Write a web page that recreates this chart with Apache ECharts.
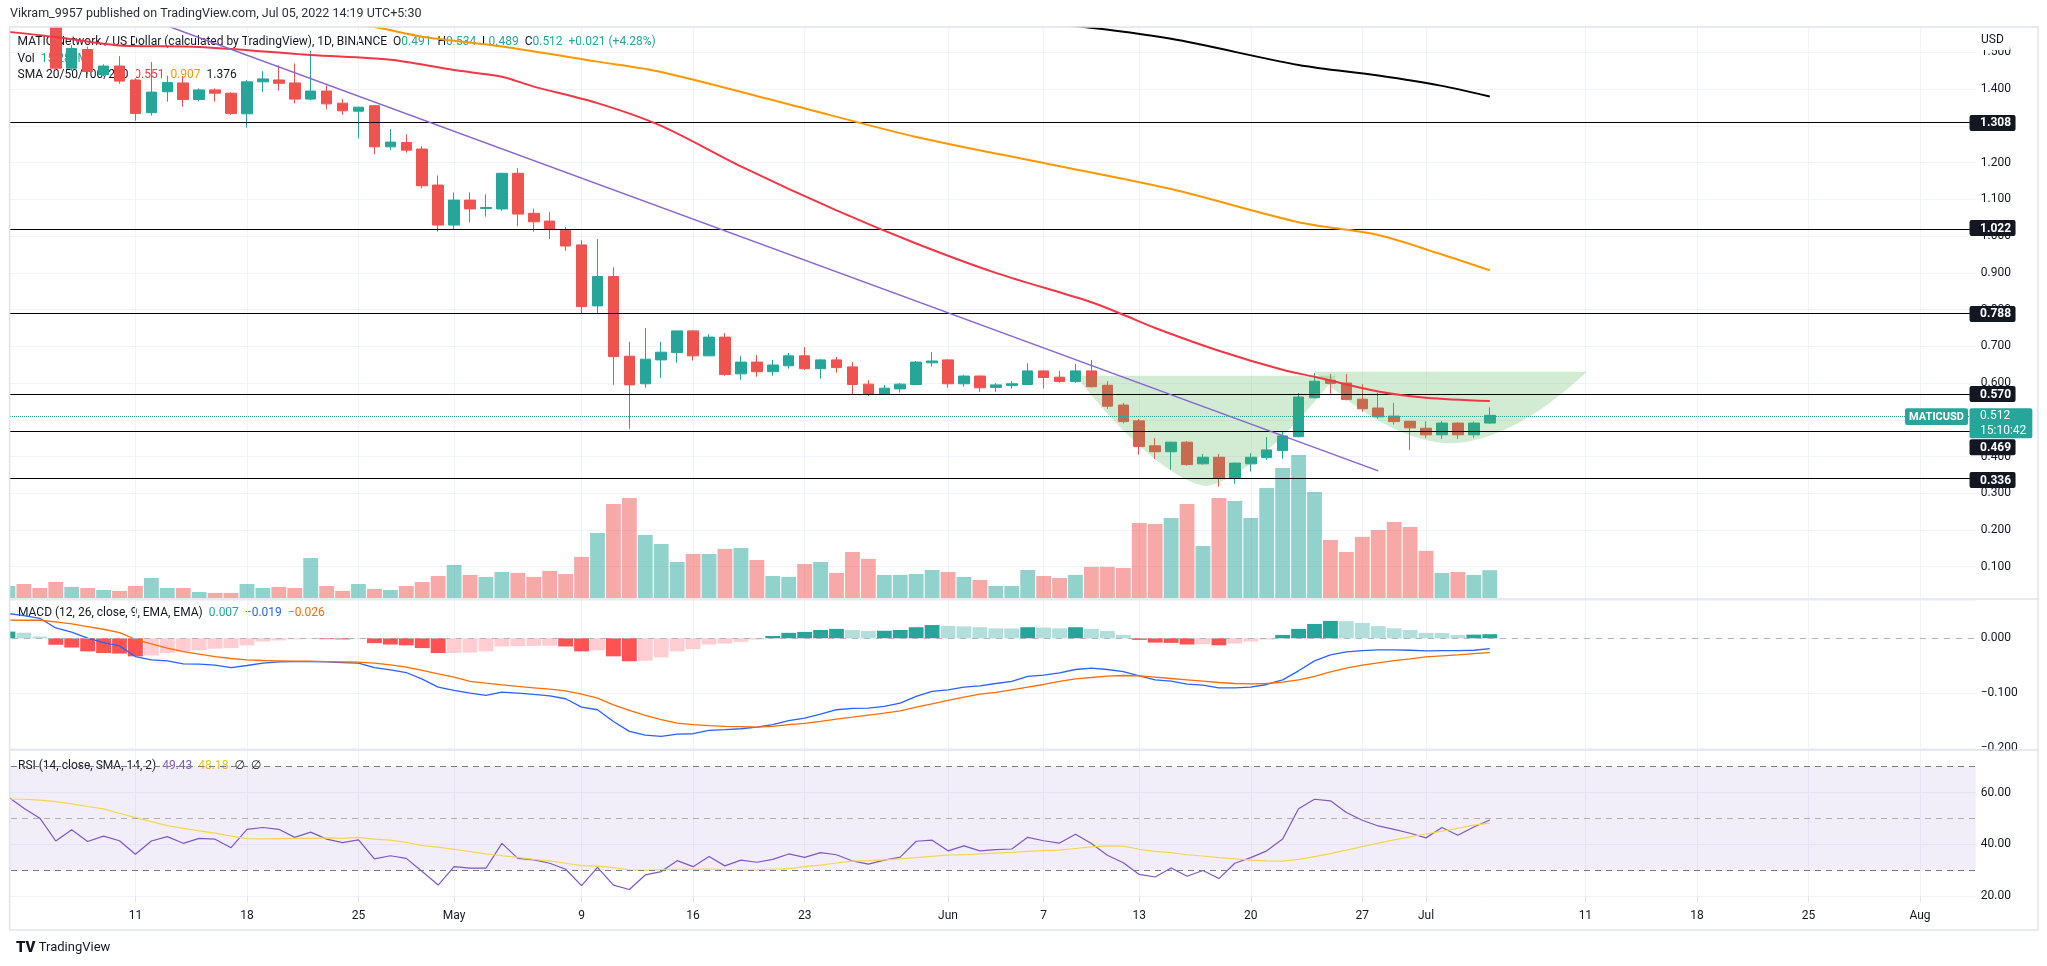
<!DOCTYPE html>
<html>
<head>
<meta charset="utf-8">
<title>MATICUSD 1D</title>
<script src="https://cdn.jsdelivr.net/npm/echarts@6.0.0/dist/echarts.min.js"></script>
<style>
html,body{margin:0;padding:0;background:#ffffff;}
#chart{width:2047px;height:966px;}
</style>
</head>
<body>
<div id="chart"></div>
<script>
// ================= DATA =================
const startDay = '2022-04-03';
const dayCount = 124;               // Apr 3 .. Aug 4 (empty space after Jul 5)

// [open, close, low, high], Apr 3 .. Jul 5
const ohlc = [
[1.650,1.700,1.620,1.720],[1.700,1.670,1.600,1.740],[1.670,1.620,1.600,1.720],[1.620,1.457,1.450,1.630],
[1.457,1.511,1.450,1.520],[1.508,1.448,1.440,1.516],[1.440,1.463,1.435,1.468],[1.463,1.422,1.415,1.490],
[1.425,1.334,1.314,1.430],[1.336,1.392,1.328,1.474],[1.393,1.418,1.366,1.437],[1.417,1.372,1.352,1.436],
[1.372,1.398,1.367,1.402],[1.398,1.389,1.366,1.402],[1.389,1.334,1.330,1.392],[1.333,1.420,1.295,1.425],
[1.420,1.428,1.393,1.449],[1.425,1.416,1.396,1.465],[1.417,1.373,1.361,1.470],[1.373,1.395,1.370,1.504],
[1.395,1.360,1.345,1.410],[1.362,1.341,1.330,1.373],[1.340,1.351,1.266,1.352],[1.355,1.243,1.223,1.357],
[1.243,1.256,1.234,1.291],[1.255,1.234,1.227,1.277],[1.237,1.137,1.130,1.245],[1.139,1.030,1.012,1.165],
[1.030,1.098,1.018,1.119],[1.098,1.074,1.037,1.119],[1.075,1.078,1.053,1.114],[1.074,1.171,1.069,1.172],
[1.171,1.060,1.027,1.185],[1.062,1.039,1.012,1.075],[1.041,1.018,0.992,1.065],[1.016,0.973,0.960,1.025],
[0.976,0.808,0.788,0.989],[0.810,0.890,0.790,0.992],[0.890,0.672,0.595,0.915],[0.673,0.595,0.475,0.712],
[0.598,0.665,0.587,0.750],[0.663,0.684,0.614,0.712],[0.683,0.742,0.655,0.742],[0.742,0.674,0.661,0.744],
[0.674,0.725,0.674,0.733],[0.725,0.623,0.620,0.736],[0.625,0.657,0.609,0.673],[0.657,0.631,0.617,0.676],
[0.631,0.649,0.620,0.663],[0.647,0.674,0.639,0.682],[0.674,0.639,0.636,0.698],[0.639,0.663,0.612,0.665],
[0.663,0.642,0.628,0.671],[0.644,0.596,0.569,0.657],[0.597,0.569,0.565,0.608],[0.570,0.586,0.568,0.595],
[0.584,0.597,0.574,0.600],[0.596,0.657,0.596,0.660],[0.655,0.660,0.645,0.684],[0.663,0.598,0.587,0.665],
[0.598,0.619,0.590,0.622],[0.619,0.587,0.576,0.620],[0.588,0.595,0.576,0.600],[0.593,0.598,0.585,0.605],
[0.596,0.633,0.596,0.654],[0.633,0.615,0.585,0.635],[0.616,0.604,0.601,0.633],[0.604,0.633,0.601,0.652],
[0.633,0.590,0.588,0.663],[0.594,0.537,0.530,0.605],[0.540,0.495,0.490,0.546],[0.497,0.427,0.405,0.502],
[0.429,0.413,0.393,0.450],[0.413,0.439,0.364,0.440],[0.439,0.378,0.375,0.442],[0.380,0.398,0.378,0.407],
[0.398,0.342,0.318,0.407],[0.342,0.382,0.326,0.383],[0.380,0.398,0.359,0.409],[0.397,0.418,0.391,0.453],
[0.416,0.456,0.394,0.467],[0.454,0.562,0.452,0.573],[0.560,0.605,0.558,0.627],[0.608,0.599,0.571,0.625],
[0.600,0.555,0.553,0.625],[0.556,0.530,0.522,0.597],[0.532,0.508,0.503,0.573],[0.510,0.495,0.487,0.546],
[0.496,0.478,0.418,0.497],[0.477,0.459,0.451,0.496],[0.459,0.491,0.448,0.497],[0.491,0.459,0.448,0.493],
[0.459,0.491,0.451,0.495],[0.491,0.512,0.489,0.534]
];

// volume, millions
const volume = [
6.6,7.7,5.5,8.8,6.1,5.5,4.4,3.9,6.6,11.0,
5.5,5.5,3.3,2.8,2.8,7.7,5.5,6.1,5.5,22.0,
6.6,3.9,7.7,5.0,4.4,6.6,8.8,12.1,18.2,12.7,
11.6,14.3,13.8,11.6,14.9,13.2,22.6,35.8,51.7,55.0,
34.7,29.7,19.8,24.2,24.2,27.0,27.5,20.9,12.1,11.6,
18.7,19.8,13.8,25.3,21.5,12.7,12.7,13.2,15.4,14.3,
11.6,9.9,6.6,6.6,15.4,12.1,11.0,12.7,17.1,17.1,
16.5,41.3,40.7,44.0,51.7,28.6,55.0,53.4,44.0,60.5,
71.5,78.7,58.3,31.9,25.3,33.6,37.4,41.8,39.1,25.9,
13.8,14.3,12.7,15.3
];

const macdHist = [
0.012,0.010,0.003,-0.012,-0.017,-0.024,-0.027,-0.028,-0.033,-0.0315,
-0.027,-0.024,-0.022,-0.019,-0.018,-0.013,-0.006,-0.004,-0.002,-0.001,
-0.0018,-0.0022,-0.001,-0.009,-0.0115,-0.013,-0.018,-0.027,-0.0268,-0.0262,
-0.024,-0.015,-0.0145,-0.014,-0.0138,-0.015,-0.024,-0.022,-0.033,-0.042,
-0.041,-0.035,-0.024,-0.020,-0.0115,-0.0097,-0.0065,-0.0025,0.004,0.0098,
0.0115,0.015,0.017,0.015,0.0133,0.0136,0.015,0.020,0.024,0.0225,
0.0215,0.020,0.018,0.0178,0.020,0.0195,0.018,0.020,0.017,0.0133,
0.006,-0.003,-0.008,-0.0085,-0.0115,-0.011,-0.013,-0.0097,-0.006,-0.0024,
0.006,0.017,0.026,0.0315,0.031,0.028,0.022,0.018,0.015,0.0097,
0.0095,0.006,0.0065,0.0073
];

const macdLine = [
0.045,0.0412,0.0363,0.0187,0.0109,0.0000,-0.0079,-0.0140,-0.0334,-0.0394,
-0.0413,-0.0467,-0.0473,-0.0491,-0.0534,-0.0497,-0.0455,-0.0431,-0.0425,-0.0425,
-0.0431,-0.0443,-0.0455,-0.0534,-0.0576,-0.0625,-0.0746,-0.0891,-0.0952,-0.1000,
-0.1043,-0.0982,-0.1000,-0.1025,-0.1049,-0.1103,-0.1255,-0.1303,-0.1516,-0.1697,
-0.1764,-0.1788,-0.1746,-0.1740,-0.1679,-0.1667,-0.1649,-0.1619,-0.1576,-0.1503,
-0.1455,-0.1383,-0.1303,-0.1279,-0.1273,-0.1243,-0.1182,-0.1061,-0.0970,-0.0940,
-0.0892,-0.0867,-0.0825,-0.0788,-0.0697,-0.0673,-0.0631,-0.0570,-0.0546,-0.0570,
-0.0607,-0.0685,-0.0758,-0.0782,-0.0837,-0.0855,-0.0903,-0.0903,-0.0891,-0.0843,
-0.0758,-0.0594,-0.0413,-0.0304,-0.0249,-0.0225,-0.0213,-0.0213,-0.0219,-0.0231,
-0.0225,-0.0225,-0.0219,-0.0188
];

const signalLine = [
0.033,0.0327,0.0327,0.0296,0.0260,0.0212,0.0163,0.0103,-0.0019,-0.0103,
-0.0182,-0.0243,-0.0291,-0.0334,-0.0370,-0.0394,-0.0406,-0.0413,-0.0419,-0.0419,
-0.0425,-0.0431,-0.0437,-0.0455,-0.0485,-0.0528,-0.0588,-0.0649,-0.0710,-0.0788,
-0.0819,-0.0849,-0.0879,-0.0903,-0.0928,-0.0958,-0.1019,-0.1091,-0.1213,-0.1316,
-0.1407,-0.1485,-0.1546,-0.1576,-0.1594,-0.1606,-0.1612,-0.1619,-0.1606,-0.1576,
-0.1552,-0.1516,-0.1473,-0.1437,-0.1400,-0.1364,-0.1322,-0.1255,-0.1195,-0.1134,
-0.1073,-0.1019,-0.0988,-0.0940,-0.0891,-0.0843,-0.0788,-0.0740,-0.0716,-0.0691,
-0.0679,-0.0685,-0.0710,-0.0734,-0.0758,-0.0782,-0.0807,-0.0825,-0.0831,-0.0825,
-0.0801,-0.0758,-0.0697,-0.0613,-0.0546,-0.0491,-0.0449,-0.0407,-0.0376,-0.0340,
-0.0322,-0.0304,-0.0279,-0.0261
];

const rsi = [
58.4,53.9,50.1,41.3,45.6,41.1,43.2,41.4,36.2,41.3,
43.0,40.4,42.3,42.0,38.7,45.8,46.5,45.8,42.7,44.7,
42.0,40.7,41.7,34.4,35.6,34.6,29.5,24.3,31.4,30.8,
30.8,40.4,34.6,34.0,32.7,30.4,24.1,31.1,24.3,22.6,
28.2,29.5,33.7,31.4,35.3,31.7,33.9,33.1,34.2,36.3,
35.0,36.8,36.0,33.6,32.4,33.9,35.1,41.2,41.6,37.5,
39.4,37.5,38.0,38.2,42.7,41.4,40.5,43.9,40.3,35.8,
32.9,28.4,27.4,30.9,27.7,29.9,26.8,32.7,34.9,37.5,
42.1,53.7,57.4,56.8,52.3,49.3,47.1,45.8,44.3,42.5,
46.5,43.5,46.7,49.4
];

const rsiMa = [
57.4,57.4,57.1,56.5,55.6,54.6,53.7,52.0,50.3,48.8,
47.2,46.2,45.2,44.3,43.2,42.2,42.1,42.2,42.3,42.3,
42.5,42.3,42.7,42.0,41.6,40.8,39.5,38.9,38.1,37.2,
36.3,35.6,35.0,34.2,33.6,32.7,31.8,31.6,31.0,30.1,
30.0,30.2,30.4,30.4,30.5,30.2,30.1,30.1,30.4,30.6,
31.4,32.0,32.8,33.5,33.7,34.0,34.4,34.9,35.4,35.9,
36.0,36.3,36.6,36.9,37.3,37.6,37.8,38.4,39.0,39.4,
39.3,38.1,37.3,36.8,36.0,35.5,34.9,34.4,33.9,33.6,
33.5,34.2,35.3,36.4,37.8,39.1,40.5,41.7,42.9,44.0,
45.1,46.2,47.4,48.2
];

// moving averages read at a few days: [dayIndex, value]
const sma50Pts  = [[0,1.556],[3,1.542],[7,1.519],[12,1.515],[19,1.493],[24,1.480],[28,1.452],[31,1.434],[33,1.407],[37,1.362],
                   [41,1.300],[46,1.190],[52,1.070],[57,0.980],[62,0.900],[68,0.820],[70,0.786],[72,0.750],[76,0.688],[80,0.636],
                   [82,0.617],[86,0.577],[89,0.560],[93,0.551]];
const sma100Pts = [[15,1.620],[23,1.569],[26,1.543],[31,1.516],[37,1.475],[41,1.447],[49,1.359],[57,1.270],[65,1.199],[73,1.128],
                   [81,1.038],[86,1.003],[90,0.950],[93,0.907]];
const sma200Pts = [[60,1.600],[67,1.572],[73,1.537],[81,1.466],[86,1.437],[90,1.409],[93,1.380]];

const trendPts  = [[6,1.636],[86,0.361]];
const levels    = [1.308, 1.022, 0.788, 0.570, 0.469, 0.336];
const lastPrice = 0.512;
const countdown = '15:10:42';

// cup & handle drawings, in day-index / price units
const arcs = [
  {from: 67.0, to: 83.35, top: 0.620, bottom: 0.320},
  {from: 81.97, to: 99.1, top: 0.631, bottom: 0.436}
];

const xTickDates  = ['2022-04-11','2022-04-18','2022-04-25','2022-05-01','2022-05-09','2022-05-16','2022-05-23',
                     '2022-06-01','2022-06-07','2022-06-13','2022-06-20','2022-06-27','2022-07-01','2022-07-11',
                     '2022-07-18','2022-07-25','2022-08-01'];
const xTickLabels = ['11','18','25','May','9','16','23','Jun','7','13','20','27','Jul','11','18','25','Aug'];

// ================= STYLE / LAYOUT =================
const FF = 'Roboto, "DejaVu Sans", sans-serif';
const UP = '#26a69a', DOWN = '#ef5350';
const GRID_LINE = '#f0f3fa';
const arcPower = [1.5, 1.8];
const levelTagShift = [0, 0, 0, 0, 16, 0];
const gl = -3.3, gr = 71.26;

const dates = [];
{
  const p = startDay.split('-').map(Number);
  for (let i = 0; i < dayCount; i++) {
    dates.push(new Date(Date.UTC(p[0], p[1] - 1, p[2] + i)).toISOString().slice(0, 10));
  }
}
const tickSet = new Set(xTickDates);
const tickLabel = {};
xTickDates.forEach((d, i) => { tickLabel[d] = xTickLabels[i]; });

function histColor(i) {
  const v = macdHist[i], p = i > 0 ? macdHist[i - 1] : v - 1;
  if (v >= 0) return v > p ? '#26a69a' : '#b2dfdb';
  return v > p ? '#ffcdd2' : '#ff5252';
}

function xAxisFor(gi, labels) {
  return {
    type: 'category', gridIndex: gi, data: dates, boundaryGap: true,
    axisLine: {show: false},
    axisTick: labels ? {show: true, alignWithLabel: true, length: 6, interval: (i, v) => tickSet.has(v), lineStyle: {color: '#e0e3eb'}} : {show: false},
    axisLabel: labels ? {show: true, interval: (i, v) => tickSet.has(v), formatter: v => tickLabel[v] || '', margin: 14, color: '#131722', fontSize: 12, fontFamily: FF} : {show: false},
    splitLine: {show: gi !== 0, alignWithLabel: true, interval: (i, v) => tickSet.has(v), lineStyle: {color: GRID_LINE, width: 1}}
  };
}

function pxAt(api, xf, y) {
  const i0 = Math.floor(xf), f = xf - i0;
  const a = api.coord([i0, y]), b = api.coord([i0 + 1, y]);
  return [a[0] + (b[0] - a[0]) * f, a[1]];
}

const minus = v => (v < 0 ? '\u2212' : '') + Math.abs(v).toFixed(3);

const option = {
  animation: false,
  backgroundColor: '#ffffff',
  textStyle: {fontFamily: FF},
  grid: [
    {left: gl, right: gr, top: 26.7, height: 540},      // price
    {left: gl, right: gr, top: 26.7, height: 571.3},    // volume overlay
    {left: gl, right: gr, top: 600, height: 148},       // MACD
    {left: gl, right: gr, top: 750, height: 146.2}      // RSI
  ],
  xAxis: [xAxisFor(0, false), xAxisFor(1, false), xAxisFor(2, false), xAxisFor(3, true)],
  yAxis: [
    {gridIndex: 0, type: 'value', position: 'right', min: 0.1, max: 1.5701, interval: 0.1,
     axisLine: {show: false}, axisTick: {show: false},
     axisLabel: {margin: 5, color: '#131722', fontSize: 12, fontFamily: FF, showMaxLabel: false, formatter: v => v.toFixed(3)},
     splitLine: {lineStyle: {color: GRID_LINE}}},
    {gridIndex: 1, type: 'value', min: 0, max: 314.2, show: false},
    {gridIndex: 2, type: 'value', position: 'right', min: -0.2, max: 0.0696, interval: 0.1,
     axisLine: {show: false}, axisTick: {show: false},
     axisLabel: {margin: 5, color: '#131722', fontSize: 12, fontFamily: FF, showMaxLabel: false, formatter: minus},
     splitLine: {lineStyle: {color: GRID_LINE}}},
    {gridIndex: 3, type: 'value', position: 'right', min: 20, max: 76.4, interval: 20,
     axisLine: {show: false}, axisTick: {show: false},
     axisLabel: {margin: 5, color: '#131722', fontSize: 12, fontFamily: FF, showMaxLabel: false, formatter: v => v.toFixed(2)},
     splitLine: {lineStyle: {color: GRID_LINE}}}
  ],
  series: [
    {
      name: 'volume', type: 'bar', xAxisIndex: 1, yAxisIndex: 1, barCategoryGap: '7%', z: 1,
      data: volume.map((v, i) => ({value: v, itemStyle: {color: ohlc[i][1] >= ohlc[i][0] ? 'rgba(38,166,154,0.5)' : 'rgba(239,83,80,0.5)'}}))
    },
    {
      name: 'MATICUSD', type: 'candlestick', xAxisIndex: 0, yAxisIndex: 0, barWidth: 11, clip: true, z: 3,
      itemStyle: {color: UP, color0: DOWN, borderColor: UP, borderColor0: DOWN, borderWidth: 1},
      data: ohlc,
      markLine: {
        silent: true, symbol: ['none', 'none'], animation: false, label: {show: false},
        data: levels.map(v => ({yAxis: v, lineStyle: {color: '#000000', width: 1.2, type: 'solid'}}))
          .concat([{yAxis: lastPrice, lineStyle: {color: UP, width: 1, type: 'dotted'}}])
      }
    },
    {
      name: 'arcs', type: 'custom', xAxisIndex: 0, yAxisIndex: 0, z: 4, silent: true,
      data: arcs.map(a => [Math.round(a.from), a.top]),
      renderItem: (params, api) => {
        const a = arcs[params.dataIndex];
        const L = pxAt(api, a.from, a.top), R = pxAt(api, a.to, a.top);
        const yB = api.coord([Math.round(a.from), a.bottom])[1];
        const cx = (L[0] + R[0]) / 2, hw = (R[0] - L[0]) / 2, depth = yB - L[1];
        const p = arcPower[params.dataIndex];
        const pts = [];
        for (let k = 0; k <= 80; k++) {
          const u = -1 + 2 * k / 80;
          pts.push([cx + u * hw, L[1] + depth * (1 - Math.pow(Math.abs(u), p))]);
        }
        return {type: 'polygon', shape: {points: pts}, style: {fill: 'rgba(76,175,80,0.25)'}};
      }
    },
    {name: 'SMA50', type: 'line', xAxisIndex: 0, yAxisIndex: 0, data: sma50Pts, smooth: 0.3, symbol: 'none', z: 5,
     lineStyle: {color: '#f23645', width: 2}},
    {name: 'SMA100', type: 'line', xAxisIndex: 0, yAxisIndex: 0, data: sma100Pts, smooth: 0.3, symbol: 'none', z: 5,
     lineStyle: {color: '#ff9800', width: 2}},
    {name: 'SMA200', type: 'line', xAxisIndex: 0, yAxisIndex: 0, data: sma200Pts, smooth: 0.3, symbol: 'none', z: 5,
     lineStyle: {color: '#000000', width: 2}},
    {name: 'trend', type: 'line', xAxisIndex: 0, yAxisIndex: 0, data: trendPts, symbol: 'none', z: 6,
     lineStyle: {color: '#8a63d2', width: 1.5}},
    {
      name: 'levelTags', type: 'custom', xAxisIndex: 0, yAxisIndex: 0, z: 20, silent: true, clip: false,
      data: levels.map(v => [0, v]),
      renderItem: (params, api) => {
        const v = api.value(1);
        const cs = params.coordSys;
        const y = api.coord([0, v])[1] + levelTagShift[params.dataIndex];
        const x0 = cs.x + cs.width - 6.2;
        return {type: 'group', children: [
          {type: 'rect', shape: {x: x0, y: y - 8, width: 46, height: 16, r: 2}, style: {fill: '#131722'}},
          {type: 'text', x: x0 + 10.5, y: y + 0.5, style: {text: v.toFixed(3), fill: '#ffffff', font: 'bold 12px ' + FF, align: 'left', verticalAlign: 'middle'}}
        ]};
      }
    },
    {
      name: 'lastTag', type: 'custom', xAxisIndex: 0, yAxisIndex: 0, z: 21, silent: true, clip: false,
      data: [[0, lastPrice]],
      renderItem: (params, api) => {
        const v = api.value(1);
        const cs = params.coordSys;
        const y = api.coord([0, v])[1];
        const xr = cs.x + cs.width;
        return {type: 'group', children: [
          {type: 'rect', shape: {x: xr - 70.7, y: y - 7, width: 63, height: 16.7, r: 2}, style: {fill: UP}},
          {type: 'text', x: xr - 39.2, y: y + 1.5, style: {text: 'MATICUSD', fill: '#ffffff', font: 'bold 11px ' + FF, align: 'center', verticalAlign: 'middle'}},
          {type: 'rect', shape: {x: xr - 6.2, y: y - 7, width: 62.8, height: 30, r: 2}, style: {fill: UP}},
          {type: 'text', x: xr + 4.3, y: y + 0.5, style: {text: v.toFixed(3), fill: '#ffffff', font: '12px ' + FF, align: 'left', verticalAlign: 'middle'}},
          {type: 'text', x: xr + 4.3, y: y + 15.5, style: {text: countdown, fill: '#ffffff', font: '12px ' + FF, align: 'left', verticalAlign: 'middle'}}
        ]};
      }
    },
    {
      name: 'MACD hist', type: 'bar', xAxisIndex: 2, yAxisIndex: 2, barCategoryGap: '7%', z: 2,
      data: macdHist.map((v, i) => ({value: v, itemStyle: {color: histColor(i)}})),
      markLine: {silent: true, symbol: ['none', 'none'], label: {show: false}, animation: false,
                 data: [{yAxis: 0, lineStyle: {color: '#b2b5be', type: [6, 6], width: 1}}]}
    },
    {name: 'MACD', type: 'line', xAxisIndex: 2, yAxisIndex: 2, data: macdLine, symbol: 'none', z: 3,
     lineStyle: {color: '#2962ff', width: 1.3}},
    {name: 'Signal', type: 'line', xAxisIndex: 2, yAxisIndex: 2, data: signalLine, symbol: 'none', z: 3,
     lineStyle: {color: '#ff6d00', width: 1.3}},
    {
      name: 'RSI', type: 'line', xAxisIndex: 3, yAxisIndex: 3, data: rsi, symbol: 'none', z: 3,
      lineStyle: {color: '#7e57c2', width: 1.2},
      markArea: {silent: true, itemStyle: {color: 'rgba(126,87,194,0.1)'}, data: [[{yAxis: 30}, {yAxis: 70}]]},
      markLine: {silent: true, symbol: ['none', 'none'], label: {show: false}, animation: false,
        data: [
          {yAxis: 70, lineStyle: {color: '#787b86', type: [6, 5], width: 1}},
          {yAxis: 50, lineStyle: {color: 'rgba(120,123,134,0.55)', type: [6, 5], width: 1}},
          {yAxis: 30, lineStyle: {color: '#787b86', type: [6, 5], width: 1}}
        ]}
    },
    {name: 'RSI MA', type: 'line', xAxisIndex: 3, yAxisIndex: 3, data: rsiMa, symbol: 'none', z: 3,
     lineStyle: {color: '#f5d64b', width: 1.2}}
  ],
  graphic: {elements: [
    // masks + frame on a layer above the plot
    {type: 'rect', zlevel: 1, silent: true, shape: {x: 0, y: 0, width: 9.6, height: 966}, style: {fill: '#ffffff'}},
    {type: 'rect', zlevel: 1, silent: true, shape: {x: 0, y: 0, width: 2047, height: 26.7}, style: {fill: '#ffffff'}},
    {type: 'rect', zlevel: 1, silent: true, shape: {x: 9.6, y: 27, width: 2028.4, height: 903}, style: {fill: 'none', stroke: '#e0e3eb', lineWidth: 1.5}},
    {type: 'line', zlevel: 1, silent: true, shape: {x1: 9.6, y1: 599, x2: 2038, y2: 599}, style: {stroke: '#e0e3eb', lineWidth: 1.5}},
    {type: 'line', zlevel: 1, silent: true, shape: {x1: 9.6, y1: 750, x2: 2038, y2: 750}, style: {stroke: '#e0e3eb', lineWidth: 1.5}},
    {type: 'text', zlevel: 1, silent: true, x: 10, y: 14,
     style: {text: 'Vikram_9957 published on TradingView.com, Jul 05, 2022 14:19 UTC+5:30', fill: '#2a2e39', font: '12.5px ' + FF, verticalAlign: 'middle'}},
    {type: 'text', zlevel: 1, silent: true, x: 1981, y: 40,
     style: {text: 'USD', fill: '#131722', font: '12px ' + FF, verticalAlign: 'middle', backgroundColor: '#ffffff', padding: [3, 6, 5, 0]}},
    {type: 'text', zlevel: 1, silent: true, x: 16, y: 948,
     style: {text: '{l|TV} {n|TradingView}', font: '13px ' + FF, fill: '#131722', verticalAlign: 'middle',
             rich: {l: {fill: '#131722', fontSize: 15, fontWeight: 900, fontFamily: FF}, n: {fill: '#131722', fontSize: 13, fontFamily: FF}}}},
    // pane legends (under the marks, as in the reference)
    {type: 'text', silent: true, x: 17.6, y: 41.7,
     style: {text: '{t|MATIC Network / US Dollar (calculated by TradingView), 1D, BINANCE}  {t|O}{v|0.491}  {t|H}{v|0.534}  {t|L}{v|0.489}  {t|C}{v|0.512}  {v|+0.021 (+4.28%)}',
             font: '12px ' + FF, fill: '#131722', verticalAlign: 'middle',
             rich: {t: {fill: '#131722', fontSize: 12, fontFamily: FF}, v: {fill: UP, fontSize: 12, fontFamily: FF}}}},
    {type: 'text', silent: true, x: 17.6, y: 58.7,
     style: {text: '{t|Vol}  {v|15.289M}', font: '12px ' + FF, fill: '#131722', verticalAlign: 'middle',
             rich: {t: {fill: '#131722', fontSize: 12, fontFamily: FF}, v: {fill: UP, fontSize: 12, fontFamily: FF}}}},
    {type: 'text', silent: true, x: 17.6, y: 75.3,
     style: {text: '{t|SMA 20/50/100/200}  {r|0.551}  {o|0.907}  {t|1.376}', font: '12px ' + FF, fill: '#131722', verticalAlign: 'middle',
             rich: {t: {fill: '#131722', fontSize: 12, fontFamily: FF}, r: {fill: '#f23645', fontSize: 12, fontFamily: FF}, o: {fill: '#ff9800', fontSize: 12, fontFamily: FF}}}},
    {type: 'text', silent: true, x: 18, y: 613.3,
     style: {text: '{t|MACD (12, 26, close, 9, EMA, EMA)}  {g|0.007}  {b|\u22120.019}  {o|\u22120.026}', font: '12px ' + FF, fill: '#131722', verticalAlign: 'middle',
             rich: {t: {fill: '#131722', fontSize: 12, fontFamily: FF}, g: {fill: UP, fontSize: 12, fontFamily: FF}, b: {fill: '#2962ff', fontSize: 12, fontFamily: FF}, o: {fill: '#ff6d00', fontSize: 12, fontFamily: FF}}}},
    {type: 'text', silent: true, x: 18, y: 765.7,
     style: {text: '{t|RSI (14, close, SMA, 14, 2)}  {p|49.43}  {y|48.18}  {t|\u2205  \u2205}', font: '12px ' + FF, fill: '#131722', verticalAlign: 'middle',
             rich: {t: {fill: '#131722', fontSize: 12, fontFamily: FF}, p: {fill: '#7e57c2', fontSize: 12, fontFamily: FF}, y: {fill: '#e8c31c', fontSize: 12, fontFamily: FF}}}}
  ]}
};

const chart = echarts.init(document.getElementById('chart'), null, {renderer: 'canvas'});
chart.setOption(option);
</script>
</body>
</html>
